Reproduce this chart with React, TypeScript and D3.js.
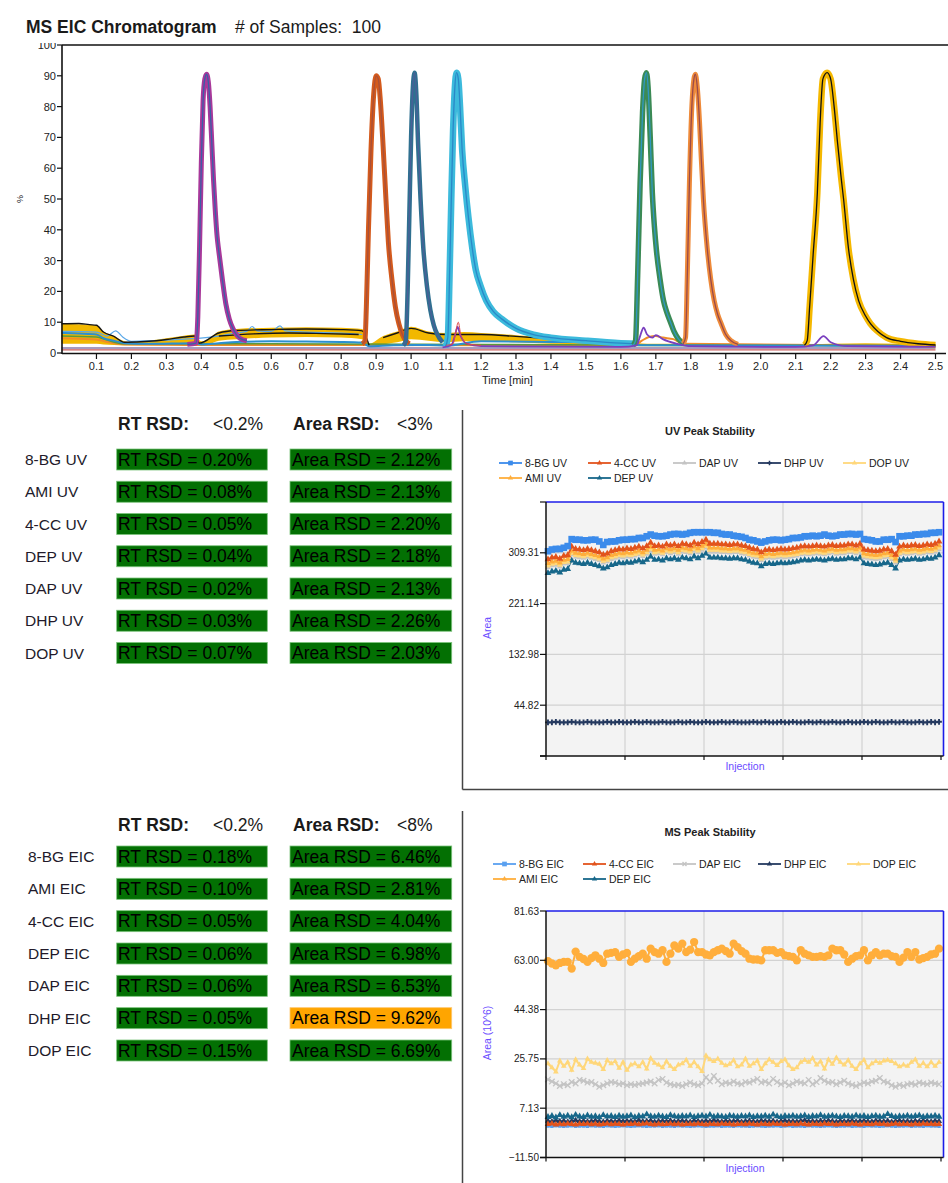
import React from 'react';
import * as d3 from 'd3';

const FONT = "'Liberation Sans', Arial, sans-serif";

// ---------- MS EIC chromatogram: [time (min), intensity (%)] ----------
const peak041 = [[0.36, 2.8], [0.385, 3.2], [0.39, 12], [0.395, 35], [0.4, 62], [0.405, 82], [0.41, 89], [0.415, 90.5], [0.42, 88], [0.425, 80], [0.43, 68], [0.435, 56], [0.44, 46], [0.445, 38], [0.45, 33], [0.46, 24], [0.47, 16], [0.48, 11], [0.49, 8], [0.5, 6], [0.51, 4.8], [0.53, 4]];
const peak090 = [[0.86, 3], [0.868, 4], [0.872, 15], [0.878, 40], [0.885, 65], [0.893, 84], [0.9, 90], [0.906, 89], [0.912, 82], [0.92, 67], [0.928, 50], [0.935, 36], [0.945, 24], [0.955, 15], [0.965, 9.5], [0.975, 6], [0.985, 4], [0.995, 3]];
const peak101 = [[0.978, 2.5], [0.985, 4], [0.99, 20], [0.995, 45], [1.0, 70], [1.005, 86], [1.01, 91], [1.015, 84], [1.02, 68], [1.027, 50], [1.035, 34], [1.045, 22], [1.055, 14], [1.065, 9], [1.075, 6], [1.09, 3.5]];
const peak113 = [[1.098, 2], [1.105, 5], [1.11, 25], [1.115, 50], [1.12, 72], [1.125, 86], [1.13, 91], [1.135, 89], [1.14, 80], [1.146, 66], [1.155, 54], [1.164, 44], [1.175, 34], [1.185, 27], [1.198, 22], [1.215, 17], [1.235, 13.5], [1.26, 11], [1.3, 8], [1.35, 6], [1.4, 5], [1.5, 4], [1.6, 3.2], [1.64, 3]];
const peak167 = [[1.635, 2.5], [1.642, 4], [1.648, 25], [1.655, 55], [1.662, 78], [1.668, 89], [1.673, 91], [1.678, 86], [1.684, 70], [1.69, 52], [1.696, 41], [1.702, 33], [1.712, 24], [1.722, 17], [1.732, 13], [1.742, 10], [1.752, 7], [1.765, 4.5], [1.78, 3]];
const peak181 = [[1.778, 3], [1.785, 5], [1.79, 25], [1.796, 55], [1.803, 80], [1.809, 89], [1.813, 90.5], [1.818, 87], [1.825, 75], [1.83, 63], [1.836, 50], [1.847, 34], [1.857, 24], [1.867, 17], [1.877, 12.5], [1.887, 9.5], [1.9, 6], [1.915, 4], [1.935, 2.8]];
const peak218 = [[2.125, 2.5], [2.133, 4], [2.14, 15], [2.15, 32], [2.162, 52], [2.17, 75], [2.178, 89], [2.19, 91], [2.2, 89], [2.21, 80], [2.22, 68], [2.23, 57], [2.237, 50], [2.251, 34], [2.265, 24], [2.28, 17], [2.3, 12], [2.314, 9.5], [2.335, 7], [2.36, 5], [2.4, 3.8], [2.45, 3], [2.5, 2.6]];

const bandTime = [0, 0.05, 0.1, 0.12, 0.15, 0.18, 0.2, 0.25, 0.3, 0.35, 0.38, 0.4, 0.42, 0.45, 0.5, 0.6, 0.7, 0.8, 0.86, 0.88, 0.92, 0.96, 1.0, 1.05, 1.1, 1.15, 1.2, 1.3, 1.4, 1.5, 1.6, 1.65, 1.7, 1.8, 1.9, 2.0, 2.1, 2.2, 2.3, 2.4, 2.5];
const bandUpper = [9.5, 9.3, 9.0, 7.0, 5.5, 3.8, 3.5, 4.0, 4.8, 5.6, 6.0, 3.8, 4.5, 7.0, 7.8, 8.2, 8.4, 8.2, 7.8, 3.0, 5.5, 7.0, 8.5, 7.0, 6.5, 6.8, 6.5, 5.8, 5.0, 4.3, 3.8, 3.2, 3.0, 3.0, 2.8, 2.8, 2.8, 3.0, 3.2, 3.0, 2.8];
const bandLower = [3.0, 3.0, 3.0, 2.8, 2.6, 2.5, 2.5, 2.5, 2.6, 2.8, 3.0, 2.5, 2.8, 4.0, 4.5, 5.0, 5.2, 5.0, 4.5, 2.0, 2.8, 3.5, 4.5, 4.0, 3.5, 3.8, 3.8, 3.5, 3.0, 2.8, 2.5, 2.2, 2.2, 2.2, 2.2, 2.2, 2.2, 2.2, 2.3, 2.3, 2.2];

const blackEarly = [[0, 9.5], [0.05, 9.6], [0.08, 9.2], [0.1, 9.0], [0.12, 6.8], [0.15, 5.4], [0.18, 3.5], [0.25, 3.8], [0.3, 4.4], [0.35, 5.2], [0.38, 5.5], [0.395, 3.2], [0.45, 6.5], [0.5, 7.3], [0.6, 7.6], [0.7, 7.8], [0.8, 7.6], [0.86, 7.2], [0.88, 2.5]];
const blackMid = [[0.45, 5.5], [0.55, 6.2], [0.65, 6.5], [0.75, 6.3], [0.85, 6.0]];
const blackLate = [[0.92, 5.0], [0.96, 6.5], [1.0, 8.0], [1.05, 6.5], [1.1, 6.0], [1.2, 6.0], [1.3, 5.4], [1.4, 4.6], [1.5, 4.0], [1.6, 3.5]];
const blueBase = [[0, 6.5], [0.05, 6.3], [0.1, 6.0], [0.12, 4.8], [0.15, 4.0], [0.18, 3.2], [0.25, 3.0], [0.38, 3.2], [0.4, 2.8], [0.45, 3.2], [0.5, 3.6], [0.6, 3.8], [0.7, 3.7], [0.8, 3.6], [0.86, 3.4], [0.88, 2.2], [0.95, 2.5], [1.05, 2.6], [1.1, 2.4], [1.2, 3.8], [1.4, 3.6], [1.6, 3.2], [1.65, 2.5], [2.0, 2.4], [2.5, 2.3]];
const lightBlueBumps = [[0, 7.0], [0.1, 6.8], [0.13, 5.5], [0.155, 7.2], [0.175, 5.2], [0.2, 3.8], [0.3, 4.2], [0.45, 5.5], [0.5, 6.5], [0.53, 7.0], [0.545, 8.6], [0.56, 7.2], [0.6, 7.0], [0.625, 8.8], [0.64, 7.2], [0.7, 6.8], [0.8, 6.5], [0.86, 6.0]];
const orangeBase = [[0, 4.8], [0.05, 4.6], [0.1, 4.4], [0.13, 3.6], [0.18, 2.8], [0.4, 2.6], [0.86, 2.6], [1.6, 2.4], [1.64, 2.5], [1.66, 4], [1.68, 5.2], [1.7, 5.5], [1.72, 5], [1.75, 4.5], [1.78, 3], [2.5, 2.3]];
const greenBase = [[0, 5.5], [0.1, 5.2], [0.13, 4.2], [0.18, 3.0], [0.5, 3.0], [1.6, 2.6], [2.5, 2.4]];
const purpleBumps = [[1.09, 1.8], [1.115, 2.5], [1.125, 5.5], [1.133, 8.5], [1.14, 6], [1.16, 3], [1.2, 2.2], [1.6, 2.0], [1.645, 2.5], [1.655, 5.5], [1.665, 8.2], [1.675, 6], [1.69, 5], [1.7, 5.8], [1.72, 4.5], [1.76, 3], [1.8, 2.2], [2.1, 2.0], [2.15, 2.5], [2.18, 5.5], [2.2, 3.5], [2.25, 2.2], [2.5, 2.0]];
const redBump = [[1.1, 2.5], [1.12, 3], [1.128, 7], [1.135, 10], [1.142, 6], [1.16, 3], [1.2, 2.5]];
const flatGray = [[0, 1.6], [2.5, 1.6]];
const flatPink = [[0, 1.0], [2.5, 1.0]];

const timeTicks = d3.range(1, 26).map(i => i / 10);
const pctTicks = d3.range(0, 101, 10);

// ---------- RSD tables ----------
const uvNames = ['8-BG UV', 'AMI UV', '4-CC UV', 'DEP UV', 'DAP UV', 'DHP UV', 'DOP UV'];
const uvRt = [0.2, 0.08, 0.05, 0.04, 0.02, 0.03, 0.07];
const uvArea = [2.12, 2.13, 2.2, 2.18, 2.13, 2.26, 2.03];
const msNames = ['8-BG EIC', 'AMI EIC', '4-CC EIC', 'DEP EIC', 'DAP EIC', 'DHP EIC', 'DOP EIC'];
const msRt = [0.18, 0.1, 0.05, 0.06, 0.06, 0.05, 0.15];
const msArea = [6.46, 2.81, 4.04, 6.98, 6.53, 9.62, 6.69];

// ---------- UV peak stability (area per injection) ----------
const uvBG = [312, 315, 316, 316, 318, 321, 333, 332, 332, 331, 331, 332, 332, 329, 323, 328, 329, 329, 331, 332, 332, 333, 333, 335, 335, 338, 341, 339, 338, 338, 339, 341, 342, 342, 341, 342, 344, 345, 345, 345, 345, 345, 344, 344, 342, 341, 341, 339, 338, 337, 335, 332, 331, 329, 327, 329, 331, 332, 332, 331, 332, 333, 335, 335, 336, 338, 338, 339, 338, 339, 341, 339, 338, 339, 341, 341, 342, 342, 341, 342, 333, 332, 331, 329, 329, 332, 332, 333, 328, 338, 338, 339, 339, 341, 341, 342, 342, 344, 344, 345];
const uvCC = [298, 301, 302, 299, 304, 305, 320, 316, 315, 314, 316, 314, 312, 310, 306, 308, 312, 314, 316, 315, 317, 316, 318, 320, 317, 321, 327, 321, 322, 320, 324, 322, 324, 321, 325, 324, 322, 327, 324, 328, 332, 325, 325, 325, 324, 324, 323, 324, 324, 322, 321, 318, 316, 315, 310, 314, 315, 314, 315, 316, 315, 316, 317, 318, 320, 321, 320, 321, 322, 321, 320, 322, 323, 321, 322, 322, 324, 324, 322, 325, 315, 314, 313, 312, 313, 315, 316, 312, 306, 320, 322, 321, 322, 323, 321, 322, 324, 323, 325, 329];
const uvAMI = [291, 294, 295, 292, 297, 298, 313, 309, 308, 307, 309, 307, 305, 303, 299, 301, 305, 307, 309, 308, 310, 309, 311, 313, 310, 314, 320, 314, 315, 313, 317, 315, 317, 314, 318, 317, 315, 320, 317, 321, 325, 318, 318, 318, 317, 317, 316, 317, 317, 315, 314, 311, 309, 308, 303, 307, 308, 307, 308, 309, 308, 309, 310, 311, 313, 314, 313, 314, 315, 314, 313, 315, 316, 314, 315, 315, 317, 317, 315, 318, 308, 307, 306, 305, 306, 308, 309, 305, 299, 313, 315, 314, 315, 316, 314, 315, 317, 316, 318, 322];
const uvDOP = [287, 290, 291, 288, 293, 294, 309, 305, 304, 303, 305, 303, 301, 299, 295, 297, 301, 303, 305, 304, 306, 305, 307, 309, 306, 310, 316, 310, 311, 309, 313, 311, 313, 310, 314, 313, 311, 316, 313, 317, 321, 314, 314, 314, 313, 313, 312, 313, 313, 311, 310, 307, 305, 304, 299, 303, 304, 303, 304, 305, 304, 305, 306, 307, 309, 310, 309, 310, 311, 310, 309, 311, 312, 310, 311, 311, 313, 313, 311, 314, 304, 303, 302, 301, 302, 304, 305, 301, 295, 309, 311, 310, 311, 312, 310, 311, 313, 312, 314, 318];
const uvDAP = [284, 287, 288, 285, 290, 291, 306, 302, 301, 300, 302, 300, 298, 296, 292, 294, 298, 300, 302, 301, 303, 302, 304, 306, 303, 307, 313, 307, 308, 306, 310, 308, 310, 307, 311, 310, 308, 313, 310, 314, 318, 311, 311, 311, 310, 310, 309, 310, 310, 308, 307, 304, 302, 301, 296, 300, 301, 300, 301, 302, 301, 302, 303, 304, 306, 307, 306, 307, 308, 307, 306, 308, 309, 307, 308, 308, 310, 310, 308, 311, 301, 300, 299, 298, 299, 301, 302, 298, 292, 306, 308, 307, 308, 309, 307, 308, 310, 309, 311, 315];
const uvDEP = [274, 277, 278, 275, 280, 281, 296, 292, 291, 290, 292, 290, 288, 286, 282, 284, 288, 290, 292, 291, 293, 292, 294, 296, 293, 297, 303, 297, 298, 296, 300, 298, 300, 297, 301, 300, 298, 303, 300, 304, 308, 301, 301, 301, 300, 300, 299, 300, 300, 298, 297, 294, 292, 291, 286, 290, 291, 290, 291, 292, 291, 292, 293, 294, 296, 297, 296, 297, 298, 297, 296, 298, 299, 297, 298, 298, 300, 300, 298, 301, 291, 290, 289, 288, 289, 291, 292, 288, 282, 296, 298, 297, 298, 299, 297, 298, 300, 299, 301, 305];
const uvDHP = [15, 15, 16, 15, 15, 15, 16, 15, 15, 15, 16, 15, 15, 15, 15, 16, 15, 15, 16, 15, 15, 15, 16, 15, 15, 16, 15, 15, 15, 16, 15, 15, 15, 16, 15, 15, 16, 15, 15, 15, 16, 15, 15, 15, 16, 15, 15, 16, 15, 15, 15, 15, 16, 15, 15, 16, 15, 15, 15, 16, 15, 15, 16, 15, 15, 15, 16, 15, 15, 16, 15, 15, 16, 15, 15, 15, 16, 15, 15, 15, 16, 15, 15, 16, 15, 15, 15, 16, 15, 15, 16, 15, 15, 15, 16, 15, 15, 16, 15, 16];

// ---------- MS peak stability (area 10^6 per injection) ----------
const msAMI = [62.7, 61.8, 61.1, 62.0, 62.4, 62.4, 59.9, 66.3, 64.3, 63.5, 62.4, 63.8, 64.9, 63.6, 62.0, 65.5, 65.8, 66.1, 64.3, 65.2, 65.8, 62.4, 63.6, 64.6, 65.5, 63.6, 67.4, 66.1, 65.5, 66.8, 62.4, 65.5, 68.6, 67.4, 69.3, 66.1, 67.0, 69.9, 66.1, 66.1, 65.2, 64.9, 66.1, 66.8, 67.4, 66.5, 65.5, 69.3, 68.0, 66.5, 65.5, 63.6, 63.3, 63.3, 63.0, 66.8, 66.8, 66.8, 65.8, 66.1, 64.9, 64.6, 64.3, 63.0, 66.8, 65.5, 64.9, 64.3, 64.3, 64.6, 64.3, 64.9, 67.4, 66.8, 66.8, 65.2, 62.4, 63.6, 64.6, 64.9, 66.8, 63.0, 64.9, 66.1, 64.9, 65.5, 65.5, 64.6, 64.3, 62.4, 64.0, 66.1, 64.3, 66.1, 63.3, 63.8, 64.3, 65.2, 65.5, 67.4];
const msDOP = [24.0, 22.5, 20.9, 25.0, 23.0, 24.5, 21.5, 25.5, 23.5, 22.2, 25.8, 24.5, 24.2, 23.8, 21.8, 25.2, 24.0, 24.8, 22.3, 24.5, 21.5, 23.5, 24.0, 22.8, 24.5, 22.0, 26.0, 24.2, 23.5, 22.5, 24.8, 23.0, 21.8, 23.5, 24.0, 25.3, 23.0, 24.5, 22.8, 21.0, 27.0, 25.5, 24.8, 25.8, 24.2, 23.2, 23.8, 25.2, 22.8, 23.5, 25.8, 23.0, 24.0, 25.0, 21.8, 24.0, 25.5, 24.5, 23.3, 24.8, 25.5, 23.2, 21.8, 22.5, 24.5, 25.3, 24.5, 26.0, 23.5, 24.8, 22.0, 25.5, 23.8, 26.2, 24.5, 23.5, 25.2, 23.0, 21.8, 24.0, 25.3, 22.5, 24.0, 24.8, 24.2, 25.0, 25.3, 24.8, 24.0, 22.8, 23.5, 23.0, 24.5, 25.5, 23.0, 24.2, 22.8, 24.5, 23.0, 24.5];
const msDAP = [18.0, 17.2, 16.5, 15.5, 16.2, 15.8, 17.0, 16.5, 17.8, 17.5, 16.8, 17.0, 16.2, 15.2, 15.8, 16.5, 17.0, 16.8, 16.2, 16.5, 15.8, 16.2, 15.9, 16.3, 16.5, 16.8, 17.2, 16.5, 17.8, 18.2, 16.8, 16.2, 15.8, 16.0, 15.5, 16.2, 16.8, 16.2, 15.8, 16.5, 18.8, 17.2, 19.3, 17.5, 16.2, 16.8, 16.5, 17.2, 16.5, 16.2, 17.0, 16.8, 17.5, 18.2, 16.8, 17.2, 16.5, 18.2, 17.0, 16.2, 16.8, 15.8, 16.5, 17.2, 16.8, 16.5, 17.8, 16.2, 17.0, 18.5, 17.5, 16.8, 17.0, 16.2, 16.8, 17.5, 16.5, 16.0, 15.5, 16.2, 16.8, 16.5, 17.2, 17.5, 18.5, 17.2, 16.8, 15.8, 15.2, 16.0, 15.5, 16.2, 16.5, 16.0, 16.8, 16.5, 16.2, 16.8, 16.5, 16.2];
const msDEP = [3.8, 4.2, 3.6, 4.5, 3.9, 4.3, 3.7, 4.6, 4.0, 3.8, 4.4, 3.9, 4.1, 3.7, 4.5, 4.0, 4.2, 3.8, 4.3, 3.9, 4.1, 4.4, 3.7, 4.2, 4.0, 4.8, 4.1, 3.9, 4.3, 4.0, 3.8, 4.5, 4.1, 3.9, 4.2, 4.0, 4.4, 3.8, 4.1, 4.3, 4.0, 4.6, 3.9, 4.2, 4.0, 3.8, 4.3, 4.1, 3.9, 4.2, 4.0, 4.4, 3.8, 4.1, 4.0, 4.3, 3.9, 4.7, 4.1, 3.8, 4.2, 4.0, 4.3, 3.9, 4.1, 4.4, 3.8, 4.2, 4.0, 4.5, 3.9, 4.1, 4.3, 4.0, 3.8, 4.2, 4.1, 3.9, 4.4, 4.0, 4.2, 3.8, 4.1, 4.3, 3.9, 4.0, 4.9, 4.2, 3.8, 4.1, 4.0, 4.3, 3.9, 4.2, 4.4, 3.8, 4.1, 4.0, 4.3, 3.9];
const msDHP = [2.3, 2.1, 2.5, 2.2, 2.4, 2.0, 2.3, 2.6, 2.2, 2.4, 2.1, 2.3, 2.5, 2.2, 2.0, 2.4, 2.3, 2.1, 2.5, 2.2, 2.4, 2.3, 2.1, 2.6, 2.2, 2.3, 2.5, 2.0, 2.3, 2.4, 2.2, 2.5, 2.1, 2.3, 2.4, 2.2, 2.0, 2.5, 2.3, 2.1, 2.4, 2.2, 2.6, 2.3, 2.1, 2.4, 2.2, 2.3, 2.5, 2.0, 2.3, 2.4, 2.2, 2.1, 2.5, 2.3, 2.2, 2.4, 2.0, 2.3, 2.5, 2.2, 2.3, 2.1, 2.4, 2.6, 2.2, 2.3, 2.1, 2.4, 2.2, 2.5, 2.3, 2.0, 2.4, 2.2, 2.3, 2.5, 2.1, 2.3, 2.4, 2.2, 2.1, 2.5, 2.3, 2.2, 2.4, 2.0, 2.3, 2.5, 2.2, 2.3, 2.1, 2.4, 2.2, 2.5, 2.3, 2.1, 2.4, 2.2];
const msCC = [1.1, 1.3, 0.9, 1.2, 1.0, 1.3, 1.1, 0.9, 1.2, 1.1, 1.3, 1.0, 1.2, 0.9, 1.1, 1.3, 1.0, 1.2, 1.1, 0.9, 1.2, 1.1, 1.3, 1.0, 1.2, 1.4, 1.1, 0.9, 1.2, 1.0, 1.1, 1.3, 1.0, 1.2, 0.9, 1.1, 1.2, 1.0, 1.3, 1.1, 0.9, 1.2, 1.1, 1.0, 1.3, 1.1, 1.2, 0.9, 1.1, 1.2, 1.0, 1.3, 1.1, 0.9, 1.2, 1.1, 1.0, 1.3, 1.1, 1.2, 0.9, 1.1, 1.2, 1.0, 1.3, 1.1, 0.9, 1.2, 1.1, 1.0, 1.3, 1.1, 1.2, 0.9, 1.1, 1.2, 1.0, 1.3, 1.1, 0.9, 1.2, 1.1, 1.0, 1.3, 1.1, 1.2, 0.9, 1.1, 1.3, 1.0, 1.2, 1.1, 0.9, 1.2, 1.0, 1.3, 1.1, 1.2, 1.0, 1.1];
const msBG = [0.4, 0.3, 0.5, 0.4, 0.3, 0.4, 0.5, 0.3, 0.4, 0.4, 0.3, 0.5, 0.4, 0.4, 0.3, 0.5, 0.4, 0.3, 0.4, 0.5, 0.4, 0.3, 0.4, 0.5, 0.4, 0.3, 0.4, 0.4, 0.5, 0.3, 0.4, 0.4, 0.3, 0.5, 0.4, 0.4, 0.3, 0.4, 0.5, 0.4, 0.3, 0.4, 0.4, 0.5, 0.3, 0.4, 0.4, 0.3, 0.5, 0.4, 0.4, 0.3, 0.4, 0.5, 0.4, 0.3, 0.4, 0.4, 0.5, 0.3, 0.4, 0.5, 0.3, 0.4, 0.4, 0.3, 0.5, 0.4, 0.4, 0.3, 0.4, 0.5, 0.4, 0.3, 0.4, 0.4, 0.5, 0.3, 0.4, 0.4, 0.3, 0.5, 0.4, 0.4, 0.3, 0.4, 0.5, 0.4, 0.3, 0.4, 0.4, 0.5, 0.3, 0.4, 0.4, 0.3, 0.5, 0.4, 0.4, 0.3];

const uvTicks = [-43.35, 44.82, 132.98, 221.14, 309.31, 397.48];
const msTicks = [-11.5, 7.13, 25.75, 44.38, 63.0, 81.63];
const injTicks = [0, 20, 40, 60, 80, 100];

const timesSym = (d3 as any).symbolTimes || d3.symbolCross;

const Marker = ({ type, x, y, color, size }: any) => {
  if (type === 'times') {
    const p = d3.symbol().type(timesSym).size(size)();
    return <path d={p as string} transform={`translate(${x},${y})`} fill="none" stroke={color} strokeWidth={1.3} />;
  }
  const t = type === 'square' ? d3.symbolSquare : type === 'circle' ? d3.symbolCircle : type === 'cross' ? d3.symbolCross : d3.symbolTriangle;
  const p = d3.symbol().type(t).size(size)();
  return <path d={p as string} transform={`translate(${x},${y})`} fill={color} />;
};

const Chromatogram = () => {
  const x = d3.scaleLinear().domain([0, 2.53]).range([61.5, 946]);
  const y = d3.scaleLinear().domain([0, 100]).range([353, 45]);
  const line = d3.line<any>().x(d => x(d[0])).y(d => y(d[1])).curve(d3.curveMonotoneX);
  const band = d3.area<number>().x((_, i) => x(bandTime[i])).y0((_, i) => y(bandLower[i])).y1((_, i) => y(bandUpper[i])).curve(d3.curveMonotoneX);

  const base = [
    { d: flatPink, c: '#c85a5a', w: 1.2 },
    { d: flatGray, c: '#8a7aa8', w: 1.6 },
    { d: orangeBase, c: '#f08c28', w: 2 },
    { d: greenBase, c: '#5a9a3c', w: 1.6 },
    { d: blueBase, c: '#2b8fd0', w: 2 },
  ];
  const peaks = [
    { d: peak041, c: '#a8389a', c2: '#3a5fa8', w: 5 },
    { d: peak090, c: '#d45a1c', c2: '#a8503a', w: 5 },
    { d: peak101, c: '#2f7090', c2: '#4a5f98', w: 4.5 },
    { d: peak113, c: '#3cbadc', c2: '#2a88c8', w: 6.5 },
    { d: peak167, c: '#3b8a55', c2: '#2f98c0', w: 5.5 },
    { d: peak181, c: '#ee8a3a', c2: '#9a4a4a', w: 5 },
    { d: peak218, c: '#f5b800', c2: '#111111', w: 6.5 },
  ];

  return (
    <g fontFamily={FONT}>
      <clipPath id="chromClip"><rect x={0} y={43} width={948} height={360} /></clipPath>
      <text x={26} y={33} fontSize={17.5} fontWeight="bold" fill="#1a1a1a">MS EIC Chromatogram</text>
      <text x={235} y={33} fontSize={17.5} fill="#1a1a1a" style={{ whiteSpace: 'pre' }}># of Samples:  100</text>

      <path d={band(bandTime as any) as string} fill="#f2b800" />
      {base.map((b, i) => <path key={i} d={line(b.d) as string} fill="none" stroke={b.c} strokeWidth={b.w} />)}
      <path d={line(lightBlueBumps) as string} fill="none" stroke="#5aa8e8" strokeWidth={1.2} />
      {[blackEarly, blackMid, blackLate].map((b, i) => <path key={i} d={line(b) as string} fill="none" stroke="#151515" strokeWidth={1.4} />)}
      {peaks.map((p, i) => (
        <g key={i}>
          <path d={line(p.d) as string} fill="none" stroke={p.c} strokeWidth={p.w} strokeLinejoin="round" />
          <path d={line(p.d) as string} fill="none" stroke={p.c2} strokeWidth={1.3} />
        </g>
      ))}
      <path d={line(purpleBumps) as string} fill="none" stroke="#7a3fbf" strokeWidth={1.8} />
      <path d={line(redBump) as string} fill="none" stroke="#e04848" strokeWidth={1} />

      <line x1={62} x2={948} y1={45} y2={45} stroke="#111" strokeWidth={1.6} />
      <line x1={62} x2={62} y1={45} y2={354} stroke="#111" strokeWidth={1.6} />
      <line x1={62} x2={946} y1={353.5} y2={353.5} stroke="#111" strokeWidth={1.6} />
      <g clipPath="url(#chromClip)">
        {pctTicks.map(t => (
          <g key={t}>
            <line x1={57} x2={62} y1={y(t)} y2={y(t)} stroke="#111" strokeWidth={1.2} />
            <text x={56} y={y(t) + 4} fontSize={11} textAnchor="end" fill="#222">{t}</text>
          </g>
        ))}
      </g>
      {timeTicks.map(t => (
        <g key={t}>
          <line x1={x(t)} x2={x(t)} y1={353} y2={359} stroke="#111" strokeWidth={1.2} />
          <text x={x(t)} y={370} fontSize={11} textAnchor="middle" fill="#222">{t.toFixed(1)}</text>
        </g>
      ))}
      <text x={482} y={384} fontSize={11} fill="#222">Time [min]</text>
      <text transform="translate(23,199) rotate(-90)" fontSize={9} textAnchor="middle" fill="#222">%</text>
    </g>
  );
};

const RsdTable = ({ headerY, rowTop, rowBottom, labelX, names, rt, area, areaLimit }: any) => {
  const row = d3.scaleLinear().domain([0, names.length - 1]).range([rowTop, rowBottom]);
  const fmt = d3.format('.2f');
  return (
    <g fontFamily={FONT} fontSize={17.5}>
      <text x={118} y={headerY + 6} fontWeight="bold" fill="#1a1a1a">RT RSD:</text>
      <text x={213} y={headerY + 6} fill="#1a1a1a">{'<0.2%'}</text>
      <text x={293} y={headerY + 6} fontWeight="bold" fill="#1a1a1a">Area RSD:</text>
      <text x={397} y={headerY + 6} fill="#1a1a1a">{`<${areaLimit}%`}</text>
      {names.map((n: string, i: number) => {
        const c = row(i);
        const warn = area[i] > areaLimit;
        return (
          <g key={n}>
            <text x={labelX} y={c + 5.5} fontSize={15.5} fill="#221a2a">{n}</text>
            <rect x={116.7} y={c - 10.5} width={150.6} height={21} fill="#037003" stroke="#7cc47c" strokeWidth={0.8} />
            <text x={118} y={c + 6.2} fill="#000">{`RT RSD = ${fmt(rt[i])}%`}</text>
            <rect x={290} y={c - 10.5} width={161.7} height={21} fill={warn ? '#ffa500' : '#037003'} stroke={warn ? '#ffc870' : '#7cc47c'} strokeWidth={0.8} />
            <text x={292} y={c + 6.2} fill="#000">{`Area RSD = ${fmt(area[i])}%`}</text>
          </g>
        );
      })}
    </g>
  );
};

const StabilityChart = ({ title, titleY, legendY, legendX, plotTop, plotBottom, ticks, labelAll, yTitle, yTitleY, series, legendOrder }: any) => {
  const left = 546, right = 943.5;
  const x = d3.scaleLinear().domain([0, 100]).range([left, 941]);
  const y = d3.scaleLinear().domain([ticks[0], ticks[ticks.length - 1]]).range([plotBottom, plotTop]);
  const line = d3.line<number>().x((_, i) => x(i + 0.5)).y(d => y(d));
  const fmt = d3.format('.2f');
  const inner = ticks.slice(1, -1);
  return (
    <g fontFamily={FONT}>
      <text x={710} y={titleY + 4} fontSize={11} fontWeight="bold" textAnchor="middle" fill="#222">{title}</text>
      {legendOrder.map((k: string, j: number) => {
        const s = series.find((d: any) => d.key === k);
        const lx = legendX[j], ly = legendY[j];
        return (
          <g key={k}>
            <line x1={lx} x2={lx + 23} y1={ly} y2={ly} stroke={s.color} strokeWidth={1.8} />
            <Marker type={s.marker === 'circle' ? 'triangle' : s.marker} x={lx + 11.5} y={ly} color={s.color} size={s.marker === 'square' ? 22 : 12} />
            <text x={lx + 26} y={ly + 3.7} fontSize={10.5} fill="#222">{s.name}</text>
          </g>
        );
      })}
      <rect x={left} y={plotTop} width={right - left} height={plotBottom - plotTop} fill="#f3f3f3" />
      {inner.map((t: number) => <line key={t} x1={left} x2={right} y1={y(t)} y2={y(t)} stroke="#d2d2d2" strokeWidth={1.2} />)}
      {injTicks.slice(1, -1).map(t => <line key={t} x1={x(t)} x2={x(t)} y1={plotTop} y2={plotBottom} stroke="#d2d2d2" strokeWidth={1.2} />)}
      {series.map((s: any) => (
        <g key={s.key}>
          <path d={line(s.values) as string} fill="none" stroke={s.color} strokeWidth={s.lw} />
          {s.values.map((v: number, i: number) => <Marker key={i} type={s.marker} x={x(i + 0.5)} y={y(v)} color={s.color} size={s.size} />)}
        </g>
      ))}
      <line x1={left} x2={right} y1={plotTop} y2={plotTop} stroke="#1c1ce8" strokeWidth={1.6} />
      <line x1={right} x2={right} y1={plotTop} y2={plotBottom} stroke="#1c1ce8" strokeWidth={1.6} />
      <line x1={left} x2={left} y1={plotTop} y2={plotBottom} stroke="#111" strokeWidth={1.5} />
      <line x1={540} x2={right} y1={plotBottom} y2={plotBottom} stroke="#111" strokeWidth={1.5} />
      {ticks.map((t: number, i: number) => (
        <g key={t}>
          <line x1={540} x2={left} y1={y(t)} y2={y(t)} stroke="#111" strokeWidth={1.2} />
          {(labelAll || (i > 0 && i < ticks.length - 1)) && (
            <text x={539} y={y(t) + 3.5} fontSize={10} textAnchor="end" fill="#222">{fmt(t)}</text>
          )}
        </g>
      ))}
      {injTicks.map(t => <line key={t} x1={x(t)} x2={x(t)} y1={plotBottom} y2={plotBottom + 4} stroke="#111" strokeWidth={1.2} />)}
      <text x={745} y={plotBottom + 14} fontSize={10.5} textAnchor="middle" fill="#6a4cff">Injection</text>
      <text transform={`translate(491,${yTitleY}) rotate(-90)`} fontSize={10.5} textAnchor="middle" fill="#6a4cff">{yTitle}</text>
    </g>
  );
};

const uvSeries = [
  { key: 'DEP', name: 'DEP UV', values: uvDEP, color: '#17678a', marker: 'triangle', size: 20, lw: 1.5 },
  { key: 'DAP', name: 'DAP UV', values: uvDAP, color: '#c4c4c4', marker: 'triangle', size: 14, lw: 1.5 },
  { key: 'DOP', name: 'DOP UV', values: uvDOP, color: '#ffd77a', marker: 'triangle', size: 16, lw: 1.5 },
  { key: 'AMI', name: 'AMI UV', values: uvAMI, color: '#ffae3c', marker: 'triangle', size: 16, lw: 1.5 },
  { key: 'CC', name: '4-CC UV', values: uvCC, color: '#e2531c', marker: 'triangle', size: 20, lw: 1.8 },
  { key: 'BG', name: '8-BG UV', values: uvBG, color: '#3b8beb', marker: 'square', size: 44, lw: 2 },
  { key: 'DHP', name: 'DHP UV', values: uvDHP, color: '#24395f', marker: 'cross', size: 18, lw: 1.5 },
];

const msSeries = [
  { key: 'BG', name: '8-BG EIC', values: msBG, color: '#5aa0f0', marker: 'square', size: 12, lw: 2.2 },
  { key: 'DHP', name: 'DHP EIC', values: msDHP, color: '#24395f', marker: 'triangle', size: 16, lw: 1.6 },
  { key: 'DEP', name: 'DEP EIC', values: msDEP, color: '#17678a', marker: 'triangle', size: 20, lw: 1.6 },
  { key: 'CC', name: '4-CC EIC', values: msCC, color: '#e2531c', marker: 'triangle', size: 18, lw: 2 },
  { key: 'DAP', name: 'DAP EIC', values: msDAP, color: '#c4c4c4', marker: 'times', size: 22, lw: 1.6 },
  { key: 'DOP', name: 'DOP EIC', values: msDOP, color: '#ffd77a', marker: 'triangle', size: 14, lw: 2 },
  { key: 'AMI', name: 'AMI EIC', values: msAMI, color: '#ffae3c', marker: 'circle', size: 54, lw: 2 },
];

const legendOrder = ['BG', 'CC', 'DAP', 'DHP', 'DOP', 'AMI', 'DEP'];

export default function App() {
  return (
    <svg width={948} height={1183} viewBox="0 0 948 1183" style={{ position: 'absolute', left: 0, top: 0, background: '#fff' }}>
      <rect width={948} height={1183} fill="#fff" />
      <Chromatogram />

      <RsdTable headerY={424} rowTop={459.5} rowBottom={653} labelX={25} names={uvNames} rt={uvRt} area={uvArea} areaLimit={3} />
      <RsdTable headerY={825} rowTop={856.5} rowBottom={1050.5} labelX={28} names={msNames} rt={msRt} area={msArea} areaLimit={8} />

      <line x1={462.5} x2={462.5} y1={410} y2={789.5} stroke="#444" strokeWidth={1.5} />
      <line x1={462.5} x2={948} y1={789.5} y2={789.5} stroke="#444" strokeWidth={1.5} />
      <line x1={462.5} x2={462.5} y1={811} y2={1183} stroke="#444" strokeWidth={1.5} />

      <StabilityChart title="UV Peak Stability" titleY={431} legendY={[463, 463, 463, 463, 463, 478, 478]}
        legendX={[499, 588, 673, 758, 843, 499, 588]} plotTop={502} plotBottom={756} ticks={uvTicks} labelAll={false}
        yTitle="Area" yTitleY={628} series={uvSeries} legendOrder={legendOrder} />
      <StabilityChart title="MS Peak Stability" titleY={832} legendY={[864, 864, 864, 864, 864, 879, 879]}
        legendX={[493, 583, 673, 758, 847, 493, 583]} plotTop={911} plotBottom={1157.5} ticks={msTicks} labelAll={true}
        yTitle="Area (10^6)" yTitleY={1033} series={msSeries} legendOrder={legendOrder} />
    </svg>
  );
}
